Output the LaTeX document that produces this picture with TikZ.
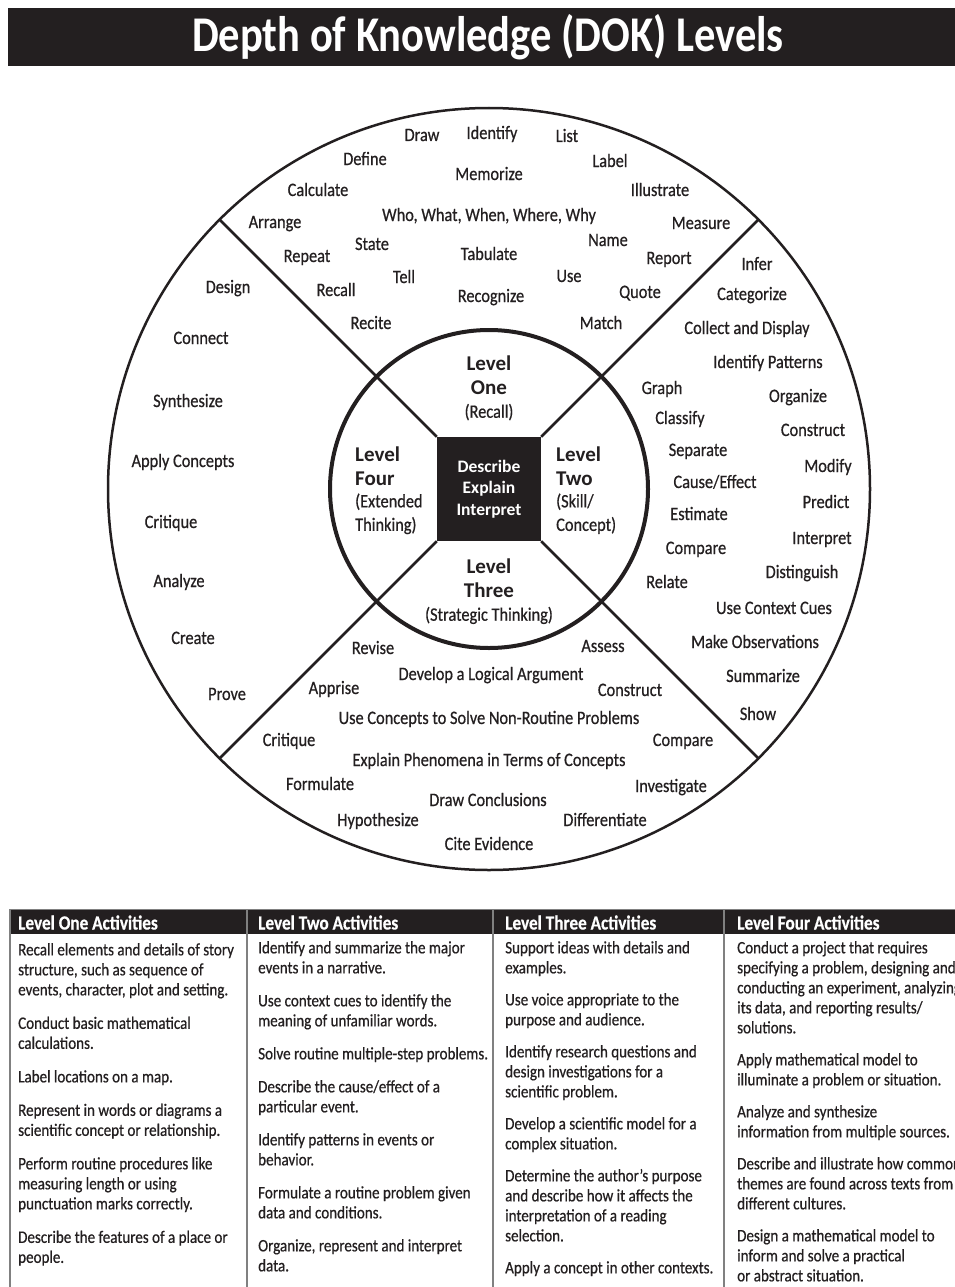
\documentclass[tikz,border=0pt]{standalone}
\usepackage{fontspec}
\setmainfont{Carlito}[FakeStretch=0.86, FakeBold=0.6]
\newfontfamily\plainfont{Carlito}
\newfontfamily\titlefont{Carlito}[FakeStretch=0.85]
\usetikzlibrary{positioning}
\definecolor{ink}{RGB}{35,31,32}
\definecolor{rule}{RGB}{128,128,128}

\begin{document}
\begin{tikzpicture}[x=1pt, y=-1pt,
    ring/.style={draw=ink, line width=2.5pt},
    word/.style={text=ink, font=\fontsize{19}{19}\selectfont, inner sep=0pt, text height=12pt, text depth=0pt},
    level/.style={text=ink, font=\plainfont\bfseries\fontsize{21}{24}\selectfont, inner sep=0pt},
    sub/.style={text=ink, font=\fontsize{19}{23.5}\selectfont, inner sep=0pt},
    head/.style={text=white, font=\bfseries\fontsize{20}{20}\selectfont, anchor=west, inner sep=0pt, text height=13pt, text depth=0pt},
    cell/.style={text=ink, font=\fontsize{17.5}{20}\selectfont, align=left, anchor=north west, inner sep=0pt}]
        \useasboundingbox (0,0) rectangle (954,1287);

        % Title bar
        \fill[ink] (8,8) rectangle (960,66);
        \node [text=white, font=\titlefont\bfseries\fontsize{50}{50}\selectfont, inner sep=0pt, text height=32pt, text depth=0pt] (title) at (488,36) {Depth of Knowledge (DOK) Levels};

        % Wheel
        \coordinate (c) at (489,489);
        \draw [ring] (c) circle[radius=381pt];
        \draw [draw=ink, line width=4pt] (c) circle[radius=159pt];
        \node [fill=ink, minimum size=104pt, inner sep=0pt, text=white, align=center, font=\plainfont\bfseries\fontsize{17.5}{21.5}\selectfont] (core) at (c) {Describe\\Explain\\Interpret};
        \draw [ring] (core.north west) -- ++(-217.4,-217.4);
        \draw [ring] (core.north east) -- ++(217.4,-217.4);
        \draw [ring] (core.south west) -- ++(-217.4,217.4);
        \draw [ring] (core.south east) -- ++(217.4,217.4);

        % Levels
        \node [level, align=center] (one) at (489,375) {Level\\One};
        \node [sub, below=9pt of one] (onesub) {(Recall)};
        \node [level, align=left, anchor=north west] (two) at (556,447) {Level\\Two};
        \node [sub, align=left, below=7pt of two.south west, anchor=north west] (twosub) {(Skill/\\Concept)};
        \node [level, align=center] (three) at (489,578) {Level\\Three};
        \node [sub, below=9pt of three] (threesub) {(Strategic Thinking)};
        \node [level, align=left, anchor=north west] (four) at (355,447) {Level\\Four};
        \node [sub, align=left, below=7pt of four.south west, anchor=north west] (foursub) {(Extended\\Thinking)};

        % Level One words
        \node [word] (draw) at (422,135) {Draw};
        \node [word] (identify) at (492,133) {Identify};
        \node [word] (list) at (567,136) {List};
        \node [word] (define) at (365,159) {Define};
        \node [word] (label) at (610,161) {Label};
        \node [word] (memorize) at (489,174) {Memorize};
        \node [word] (calculate) at (318,190) {Calculate};
        \node [word] (illustrate) at (660,190) {Illustrate};
        \node [word] (arrange) at (275,222) {Arrange};
        \node [word] (who) at (489,215) {Who, What, When, Where, Why};
        \node [word] (measure) at (701,223) {Measure};
        \node [word] (state) at (372,244) {State};
        \node [word] (name) at (608,240) {Name};
        \node [word] (repeat) at (307,256) {Repeat};
        \node [word] (tabulate) at (489,254) {Tabulate};
        \node [word] (report) at (669,258) {Report};
        \node [word] (tell) at (404,277) {Tell};
        \node [word] (use) at (569,276) {Use};
        \node [word] (recall) at (336,290) {Recall};
        \node [word] (recognize) at (491,296) {Recognize};
        \node [word] (quote) at (640,292) {Quote};
        \node [word] (recite) at (371,323) {Recite};
        \node [word] (match) at (601,323) {Match};

        % Level Two words
        \node [word] (infer) at (757,264) {Infer};
        \node [word] (categorize) at (752,294) {Categorize};
        \node [word] (collect) at (747,328) {Collect and Display};
        \node [word] (patterns) at (768,362) {Identify Patterns};
        \node [word] (graph) at (662,388) {Graph};
        \node [word] (organize) at (798,396) {Organize};
        \node [word] (classify) at (680,418) {Classify};
        \node [word] (construct2) at (813,430) {Construct};
        \node [word] (separate) at (698,450) {Separate};
        \node [word] (modify) at (828,466) {Modify};
        \node [word] (cause) at (715,482) {Cause/Effect};
        \node [word] (predict) at (826,502) {Predict};
        \node [word] (estimate) at (699,514) {Estimate};
        \node [word] (interpret) at (822,538) {Interpret};
        \node [word] (compare2) at (696,548) {Compare};
        \node [word] (distinguish) at (802,572) {Distinguish};
        \node [word] (relate) at (667,582) {Relate};
        \node [word] (cues) at (774,608) {Use Context Cues};
        \node [word] (observe) at (755,642) {Make Observations};
        \node [word] (summarize) at (763,676) {Summarize};
        \node [word] (show) at (758,714) {Show};

        % Level Three words
        \node [word] (revise) at (373,648) {Revise};
        \node [word] (assess) at (603,646) {Assess};
        \node [word] (argue) at (491,674) {Develop a Logical Argument};
        \node [word] (apprise) at (334,688) {Apprise};
        \node [word] (construct3) at (630,690) {Construct};
        \node [word] (solve) at (489,718) {Use Concepts to Solve Non-Routine Problems};
        \node [word] (critique3) at (289,740) {Critique};
        \node [word] (compare3) at (683,740) {Compare};
        \node [word] (explain) at (489,760) {Explain Phenomena in Terms of Concepts};
        \node [word] (formulate) at (320,784) {Formulate};
        \node [word] (investigate) at (671,786) {Investigate};
        \node [word] (conclude) at (488,800) {Draw Conclusions};
        \node [word] (hypothesize) at (378,820) {Hypothesize};
        \node [word] (differentiate) at (605,820) {Differentiate};
        \node [word] (cite) at (489,844) {Cite Evidence};

        % Level Four words
        \node [word] (design) at (228,287) {Design};
        \node [word] (connect) at (201,338) {Connect};
        \node [word] (synthesize) at (188,401) {Synthesize};
        \node [word] (apply) at (183,461) {Apply Concepts};
        \node [word] (critique4) at (171,522) {Critique};
        \node [word] (analyze) at (179,581) {Analyze};
        \node [word] (create) at (193,638) {Create};
        \node [word] (prove) at (227,694) {Prove};

        % Activities table
        \fill[ink] (10,910) rectangle (960,934);
        \draw[rule, line width=1pt] (10,909) -- (960,909);
        \foreach \x in {10,247,493,724}
            \draw[rule, line width=2pt] (\x,909) -- (\x,1290);
        \node [head] (h1) at (18,923) {Level One Activities};
        \node [head] (h2) at (258,923) {Level Two Activities};
        \node [head] (h3) at (505,923) {Level Three Activities};
        \node [head] (h4) at (737,923) {Level Four Activities};

        \node [cell] (c1) at (18,943) {Recall elements and details of story\\
            structure, such as sequence of\\
            events, character, plot and setting.\\[13.5pt]
            Conduct basic mathematical\\
            calculations.\\[13.5pt]
            Label locations on a map.\\[13.5pt]
            Represent in words or diagrams a\\
            scientific concept or relationship.\\[13.5pt]
            Perform routine procedures like\\
            measuring length or using\\
            punctuation marks correctly.\\[13.5pt]
            Describe the features of a place or\\
            people.};
        \node [cell] (c2) at (258,941) {Identify and summarize the major\\
            events in a narrative.\\[13pt]
            Use context cues to identify the\\
            meaning of unfamiliar words.\\[13pt]
            Solve routine multiple-step problems.\\[13pt]
            Describe the cause/effect of a\\
            particular event.\\[13pt]
            Identify patterns in events or\\
            behavior.\\[13pt]
            Formulate a routine problem given\\
            data and conditions.\\[13pt]
            Organize, represent and interpret\\
            data.};
        \node [cell] (c3) at (505,941) {Support ideas with details and\\
            examples.\\[12pt]
            Use voice appropriate to the\\
            purpose and audience.\\[12pt]
            Identify research questions and\\
            design investigations for a\\
            scientific problem.\\[12pt]
            Develop a scientific model for a\\
            complex situation.\\[12pt]
            Determine the author's purpose\\
            and describe how it affects the\\
            interpretation of a reading\\
            selection.\\[12pt]
            Apply a concept in other contexts.};
        \node [cell] (c4) at (737,941) {Conduct a project that requires\\
            specifying a problem, designing and\\
            conducting an experiment, analyzing\\
            its data, and reporting results/\\
            solutions.\\[12pt]
            Apply mathematical model to\\
            illuminate a problem or situation.\\[12pt]
            Analyze and synthesize\\
            information from multiple sources.\\[12pt]
            Describe and illustrate how common\\
            themes are found across texts from\\
            different cultures.\\[12pt]
            Design a mathematical model to\\
            inform and solve a practical\\
            or abstract situation.};
\end{tikzpicture}
\end{document}
